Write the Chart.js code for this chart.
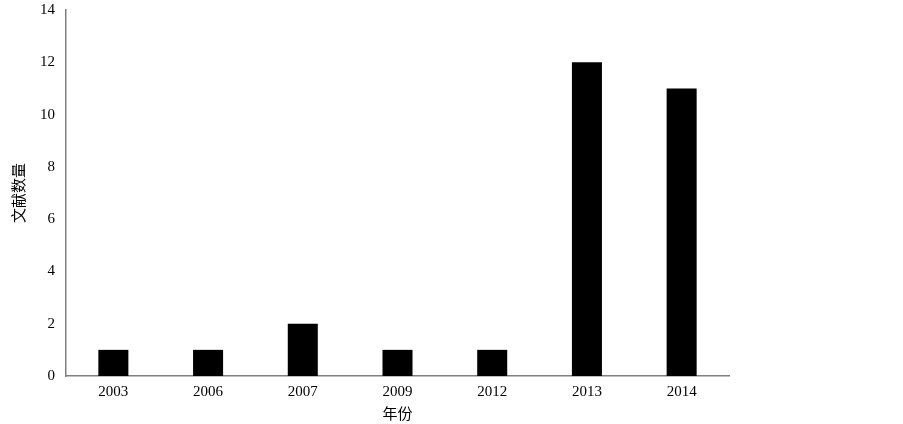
<!DOCTYPE html>
<html><head><meta charset="utf-8">
<script src="https://cdn.jsdelivr.net/npm/chart.js@4"></script>
<style>html,body{margin:0;padding:0;background:#fff}#w{width:903px;height:424px}</style>
</head><body><div id="w"><canvas id="c"></canvas></div>
<script>
const years = ['2003','2006','2007','2009','2012','2013','2014'];
const counts = [1,1,2,1,1,12,11];
const yTitle = '文献数量';
const xTitle = '年份';
const FONT = "'Liberation Serif', 'Noto Sans CJK SC', serif";
new Chart(document.getElementById('c'), {
  type: 'bar',
  data: { labels: years, datasets: [{ data: counts, backgroundColor: '#000', borderWidth: 0, barPercentage: 0.317, categoryPercentage: 1 }] },
  options: {
    responsive: true, maintainAspectRatio: false, animation: false,
    layout: { padding: { left: 11, right: 174, top: 10, bottom: 0 } },
    plugins: { legend: { display: false }, tooltip: { enabled: false } },
    scales: {
      x: {
        grid: { display: false, drawTicks: false },
        border: { color: '#808080', width: 1.5 },
        ticks: { color: '#000', font: { family: FONT, size: 15 }, padding: 7 },
        title: { display: true, text: xTitle, color: '#000', font: { family: FONT, size: 15 }, padding: { top: 4, bottom: 0 } },
        afterFit: s => { s.height = 48; s.paddingLeft = 0; s.paddingRight = 0; }
      },
      y: {
        min: 0, max: 14,
        grid: { display: false, drawTicks: false },
        border: { color: '#808080', width: 1.5 },
        ticks: { stepSize: 2, color: '#000', font: { family: FONT, size: 15 }, padding: 11 },
        title: { display: true, text: yTitle, color: '#000', font: { family: FONT, size: 15 }, padding: { top: 0, bottom: 0 } },
        afterFit: s => { s.width = 55; s.paddingTop = 0; s.paddingBottom = 0; }
      }
    }
  }
});
</script></body></html>
